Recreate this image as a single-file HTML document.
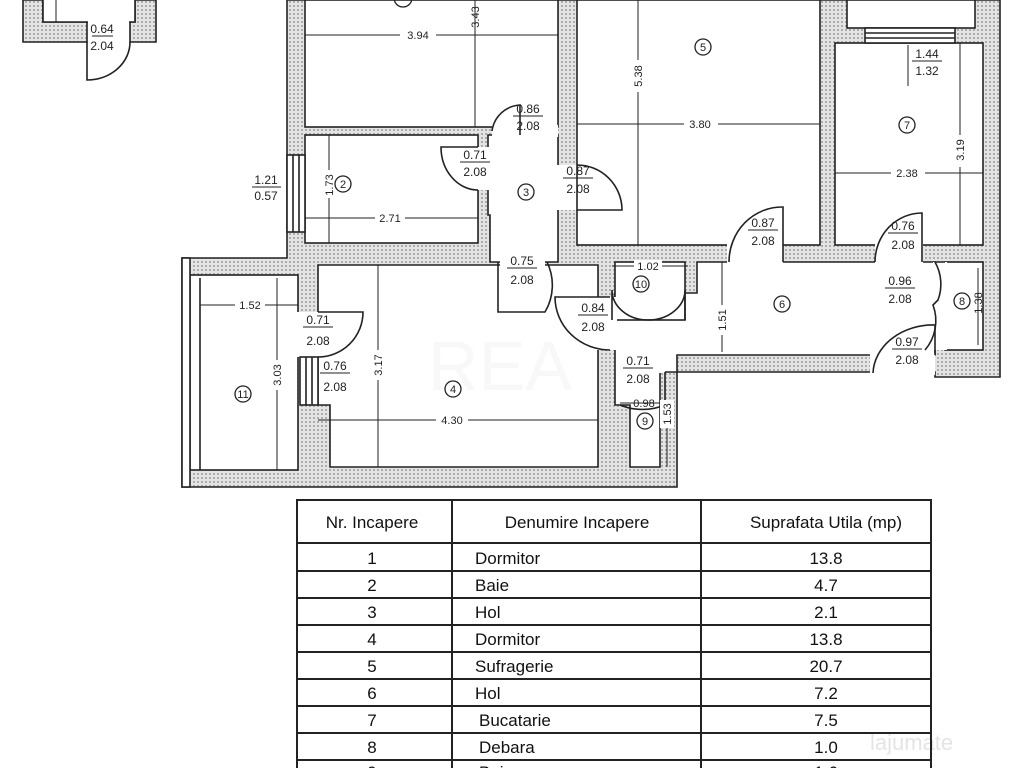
<!DOCTYPE html>
<html><head><meta charset="utf-8"><style>
html,body{margin:0;padding:0;background:#fff;width:1024px;height:768px;overflow:hidden}
svg{display:block}
text{font-family:"Liberation Sans",sans-serif;fill:#222}
.f{font-size:12px;text-anchor:middle}
.c{font-size:11px;text-anchor:middle}
.t{font-size:17px;fill:#111}
</style></head><body>
<svg width="1024" height="768" viewBox="0 0 1024 768" xmlns="http://www.w3.org/2000/svg">
<defs>
<pattern id="h" width="4" height="4" patternUnits="userSpaceOnUse">
<rect width="4" height="4" fill="#e4e4e4"/><circle cx="2" cy="2" r="1" fill="#9a9a9a"/>
</pattern>
</defs>
<g stroke="#222" stroke-width="1.6">
<polygon points="23,0 156,0 156,42 130,42 130,22 135,22 135,0 43,0 43,22 87,22 87,42 23,42" fill="url(#h)"/>
<rect x="43" y="0" width="92" height="22" fill="#fff" stroke="none"/>
<polyline points="43,0 43,22 135,22 135,0" fill="none"/>
<polygon points="287,0 1000,0 1000,377 935,377 935,372 677,372 677,487 182,487 182,258 287,258" fill="url(#h)"/>
<g fill="#fff">
<rect x="305" y="0" width="253" height="127"/>
<rect x="577" y="0" width="243" height="245"/>
<rect x="847" y="0" width="128" height="28"/>
<rect x="835" y="43" width="148" height="202"/>
<rect x="305" y="135" width="173" height="108"/>
<polygon points="490,135 558,135 558,262 490,262 490,215 488,215 488,135"/>
<rect x="190" y="275" width="108" height="195"/>
<polygon points="318,265 598,265 598,467 330,467 330,405 318,405"/>
<polygon points="697,262 935,262 935,355 677,355 677,372 660,372 660,467 630,467 630,405 615,405 615,293 697,293"/>
<rect x="615" y="262" width="70" height="58"/>
<rect x="945" y="262" width="38" height="88"/>
</g>
<g fill="#fff" stroke="none">
<rect x="492" y="125" width="66" height="12"/>
<rect x="556" y="165" width="23" height="45"/>
<rect x="500" y="240" width="45" height="28"/>
<rect x="727" y="243" width="56" height="21"/>
<rect x="875" y="243" width="48" height="21"/>
<rect x="596" y="297" width="21" height="53"/>
<rect x="296" y="312" width="24" height="45"/>
<rect x="933" y="262" width="14" height="88"/>
<rect x="870" y="353" width="65" height="22"/>
<rect x="620" y="353" width="45" height="20"/>
<rect x="476" y="147" width="14" height="43"/>
<rect x="88" y="21" width="41" height="22"/>
</g>
<rect x="287" y="155" width="18" height="77" fill="#fff"/>
<line x1="293" y1="155" x2="293" y2="232"/><line x1="299" y1="155" x2="299" y2="232"/>
<rect x="300" y="357" width="18" height="48" fill="#fff"/>
<line x1="306" y1="357" x2="306" y2="405"/><line x1="312" y1="357" x2="312" y2="405"/>
<rect x="865" y="28" width="90" height="15" fill="#fff"/>
<line x1="865" y1="33" x2="955" y2="33"/><line x1="865" y1="38" x2="955" y2="38"/>
<rect x="182" y="258" width="8" height="229" fill="#fff"/>
<line x1="200" y1="278" x2="200" y2="470"/>
<g fill="none">
<path d="M87,42 L87,80 A43,38 0 0 0 130,42"/>
<path d="M520,135 L520,105 A30,30 0 0 0 492,131"/>
<path d="M577,165 L577,210 L622,210 A45,45 0 0 0 577,165"/>
<path d="M478,147 L441,147 A37,43 0 0 0 478,190"/>
<path d="M498,262 L498,312 L545,312 A47,50 0 0 0 547,262"/>
<path d="M783,262 L783,207 A53,55 0 0 0 729,262"/>
<path d="M922,262 L922,213 A47,49 0 0 0 875,262"/>
<path d="M610,297 L555,297 A55,53 0 0 0 610,350"/>
<path d="M318,312 L363,312 A45,45 0 0 1 318,357"/>
<path d="M612,320 L612,290 A36,30 0 0 0 648,320 M685,320 L685,290 A37,30 0 0 1 648,320"/>
<path d="M945,262 L935,262 A45,45 0 0 1 938,300 L933,305 A45,45 0 0 1 925,350"/>
<path d="M935,355 L935,325 A60,50 0 0 0 873,373"/>
<path d="M665,372 L665,405 A45,33 0 0 1 620,405"/>
</g>
</g>
<g stroke="#222" stroke-width="1" fill="none">
<line x1="56" y1="0" x2="56" y2="22"/>
<line x1="305" y1="35" x2="558" y2="35"/><line x1="475" y1="0" x2="475" y2="127"/>
<line x1="329" y1="135" x2="329" y2="243"/><line x1="305" y1="218" x2="478" y2="218"/>
<line x1="638" y1="0" x2="638" y2="245"/><line x1="577" y1="124" x2="820" y2="124"/>
<line x1="960" y1="43" x2="960" y2="245"/><line x1="835" y1="173" x2="983" y2="173"/>
<line x1="908" y1="45" x2="908" y2="86"/>
<line x1="200" y1="305" x2="298" y2="305"/><line x1="277" y1="278" x2="277" y2="470"/>
<line x1="378" y1="265" x2="378" y2="467"/><line x1="318" y1="420" x2="598" y2="420"/>
<line x1="612" y1="266" x2="688" y2="266"/><line x1="722" y1="262" x2="722" y2="352"/>
<line x1="667" y1="405" x2="667" y2="467"/><line x1="620" y1="403" x2="660" y2="403"/>
<line x1="978" y1="268" x2="978" y2="345"/>
</g>
<g>
<rect x="400" y="28" width="36" height="13" fill="#fff"/><text x="418" y="39" class="c">3.94</text>
<text class="c" transform="translate(479,17) rotate(-90)">3.43</text>
<rect x="322" y="170" width="14" height="28" fill="#fff"/><text class="c" transform="translate(333,185) rotate(-90)">1.73</text>
<rect x="375" y="212" width="30" height="13" fill="#fff"/><text x="390" y="222" class="c">2.71</text>
<rect x="631" y="60" width="14" height="32" fill="#fff"/><text class="c" transform="translate(642,76) rotate(-90)">5.38</text>
<rect x="684" y="118" width="34" height="13" fill="#fff"/><text x="700" y="128" class="c">3.80</text>
<rect x="953" y="135" width="14" height="32" fill="#fff"/><text class="c" transform="translate(964,150) rotate(-90)">3.19</text>
<rect x="891" y="167" width="34" height="13" fill="#fff"/><text x="907" y="177" class="c">2.38</text>
<rect x="235" y="299" width="30" height="13" fill="#fff"/><text x="250" y="309" class="c">1.52</text>
<rect x="270" y="360" width="14" height="30" fill="#fff"/><text class="c" transform="translate(281,375) rotate(-90)">3.03</text>
<rect x="371" y="350" width="14" height="30" fill="#fff"/><text class="c" transform="translate(382,365) rotate(-90)">3.17</text>
<rect x="436" y="414" width="32" height="13" fill="#fff"/><text x="452" y="424" class="c">4.30</text>
<rect x="634" y="260" width="28" height="12" fill="#fff"/><text x="648" y="270" class="c">1.02</text>
<rect x="715" y="305" width="14" height="30" fill="#fff"/><text class="c" transform="translate(726,320) rotate(-90)">1.51</text>
<rect x="660" y="400" width="14" height="28" fill="#fff"/><text class="c" transform="translate(671,414) rotate(-90)">1.53</text>
<text x="644" y="407" class="c">0.98</text>
<text class="c" transform="translate(982,303) rotate(-90)">1.38</text>
</g>
<g stroke="#222" stroke-width="1">
<line x1="92" y1="36" x2="113" y2="36"/><line x1="252" y1="187" x2="281" y2="187"/>
<line x1="460" y1="162" x2="490" y2="162"/><line x1="513" y1="116" x2="543" y2="116"/>
<line x1="563" y1="178" x2="593" y2="178"/><line x1="748" y1="230" x2="778" y2="230"/>
<line x1="888" y1="233" x2="918" y2="233"/><line x1="507" y1="268" x2="537" y2="268"/>
<line x1="578" y1="315" x2="608" y2="315"/><line x1="303" y1="327" x2="333" y2="327"/>
<line x1="320" y1="373" x2="350" y2="373"/><line x1="623" y1="368" x2="653" y2="368"/>
<line x1="885" y1="288" x2="915" y2="288"/><line x1="892" y1="349" x2="922" y2="349"/>
<line x1="912" y1="61" x2="942" y2="61"/>
</g>
<g>
<text x="102" y="33" class="f">0.64</text><text x="102" y="50" class="f">2.04</text>
<text x="266" y="184" class="f">1.21</text><text x="266" y="200" class="f">0.57</text>
<text x="475" y="159" class="f">0.71</text><text x="475" y="176" class="f">2.08</text>
<text x="528" y="113" class="f">0.86</text><text x="528" y="130" class="f">2.08</text>
<text x="578" y="175" class="f">0.87</text><text x="578" y="193" class="f">2.08</text>
<text x="763" y="227" class="f">0.87</text><text x="763" y="245" class="f">2.08</text>
<text x="903" y="230" class="f">0.76</text><text x="903" y="249" class="f">2.08</text>
<text x="522" y="265" class="f">0.75</text><text x="522" y="284" class="f">2.08</text>
<text x="593" y="312" class="f">0.84</text><text x="593" y="331" class="f">2.08</text>
<text x="318" y="324" class="f">0.71</text><text x="318" y="345" class="f">2.08</text>
<text x="335" y="370" class="f">0.76</text><text x="335" y="391" class="f">2.08</text>
<text x="638" y="365" class="f">0.71</text><text x="638" y="383" class="f">2.08</text>
<text x="900" y="285" class="f">0.96</text><text x="900" y="303" class="f">2.08</text>
<text x="907" y="346" class="f">0.97</text><text x="907" y="364" class="f">2.08</text>
<text x="927" y="58" class="f">1.44</text><text x="927" y="75" class="f">1.32</text>
</g>
<g fill="none" stroke="#222" stroke-width="1.3">
<circle cx="403" cy="-2" r="9"/><circle cx="343" cy="184" r="8"/><circle cx="526" cy="192" r="8"/>
<circle cx="453" cy="389" r="8"/><circle cx="703" cy="47" r="8"/><circle cx="782" cy="304" r="8"/>
<circle cx="907" cy="125" r="8"/><circle cx="962" cy="301" r="8"/><circle cx="645" cy="421" r="8"/>
<circle cx="641" cy="284" r="8"/><circle cx="243" cy="394" r="8"/>
</g>
<g>
<text x="343" y="188" class="c">2</text><text x="526" y="196" class="c">3</text><text x="453" y="393" class="c">4</text>
<text x="703" y="51" class="c">5</text><text x="782" y="308" class="c">6</text><text x="907" y="129" class="c">7</text>
<text x="962" y="305" class="c">8</text><text x="645" y="425" class="c">9</text><text x="641" y="288" class="c">10</text>
<text x="243" y="398" class="c">11</text>
</g>
<text x="500" y="390" font-size="70" fill="#000" fill-opacity="0.03" text-anchor="middle">REA</text>
<g stroke="#222" stroke-width="2" fill="none">
<rect x="297" y="500" width="634" height="280"/>
<line x1="452" y1="500" x2="452" y2="768"/><line x1="701" y1="500" x2="701" y2="768"/>
<line x1="297" y1="543" x2="931" y2="543"/><line x1="297" y1="571" x2="931" y2="571"/>
<line x1="297" y1="598" x2="931" y2="598"/><line x1="297" y1="625" x2="931" y2="625"/>
<line x1="297" y1="652" x2="931" y2="652"/><line x1="297" y1="679" x2="931" y2="679"/>
<line x1="297" y1="706" x2="931" y2="706"/><line x1="297" y1="733" x2="931" y2="733"/>
<line x1="297" y1="760" x2="931" y2="760"/>
</g>
<g>
<text x="372" y="528" text-anchor="middle" class="t">Nr. Incapere</text>
<text x="577" y="528" text-anchor="middle" class="t">Denumire Incapere</text>
<text x="826" y="528" text-anchor="middle" class="t">Suprafata Utila (mp)</text>
<text x="372" y="564" text-anchor="middle" class="t">1</text><text x="475" y="564" class="t">Dormitor</text><text x="826" y="564" text-anchor="middle" class="t">13.8</text>
<text x="372" y="591" text-anchor="middle" class="t">2</text><text x="475" y="591" class="t">Baie</text><text x="826" y="591" text-anchor="middle" class="t">4.7</text>
<text x="372" y="618" text-anchor="middle" class="t">3</text><text x="475" y="618" class="t">Hol</text><text x="826" y="618" text-anchor="middle" class="t">2.1</text>
<text x="372" y="645" text-anchor="middle" class="t">4</text><text x="475" y="645" class="t">Dormitor</text><text x="826" y="645" text-anchor="middle" class="t">13.8</text>
<text x="372" y="672" text-anchor="middle" class="t">5</text><text x="475" y="672" class="t">Sufragerie</text><text x="826" y="672" text-anchor="middle" class="t">20.7</text>
<text x="372" y="699" text-anchor="middle" class="t">6</text><text x="475" y="699" class="t">Hol</text><text x="826" y="699" text-anchor="middle" class="t">7.2</text>
<text x="372" y="726" text-anchor="middle" class="t">7</text><text x="479" y="726" class="t">Bucatarie</text><text x="826" y="726" text-anchor="middle" class="t">7.5</text>
<text x="372" y="753" text-anchor="middle" class="t">8</text><text x="479" y="753" class="t">Debara</text><text x="826" y="753" text-anchor="middle" class="t">1.0</text>
<text x="372" y="778" text-anchor="middle" class="t">9</text><text x="479" y="778" class="t">Baie</text><text x="826" y="778" text-anchor="middle" class="t">1.6</text>
</g>
<text x="870" y="750" font-size="22" fill="#000" fill-opacity="0.12">lajumate</text>
</svg>
</body></html>
